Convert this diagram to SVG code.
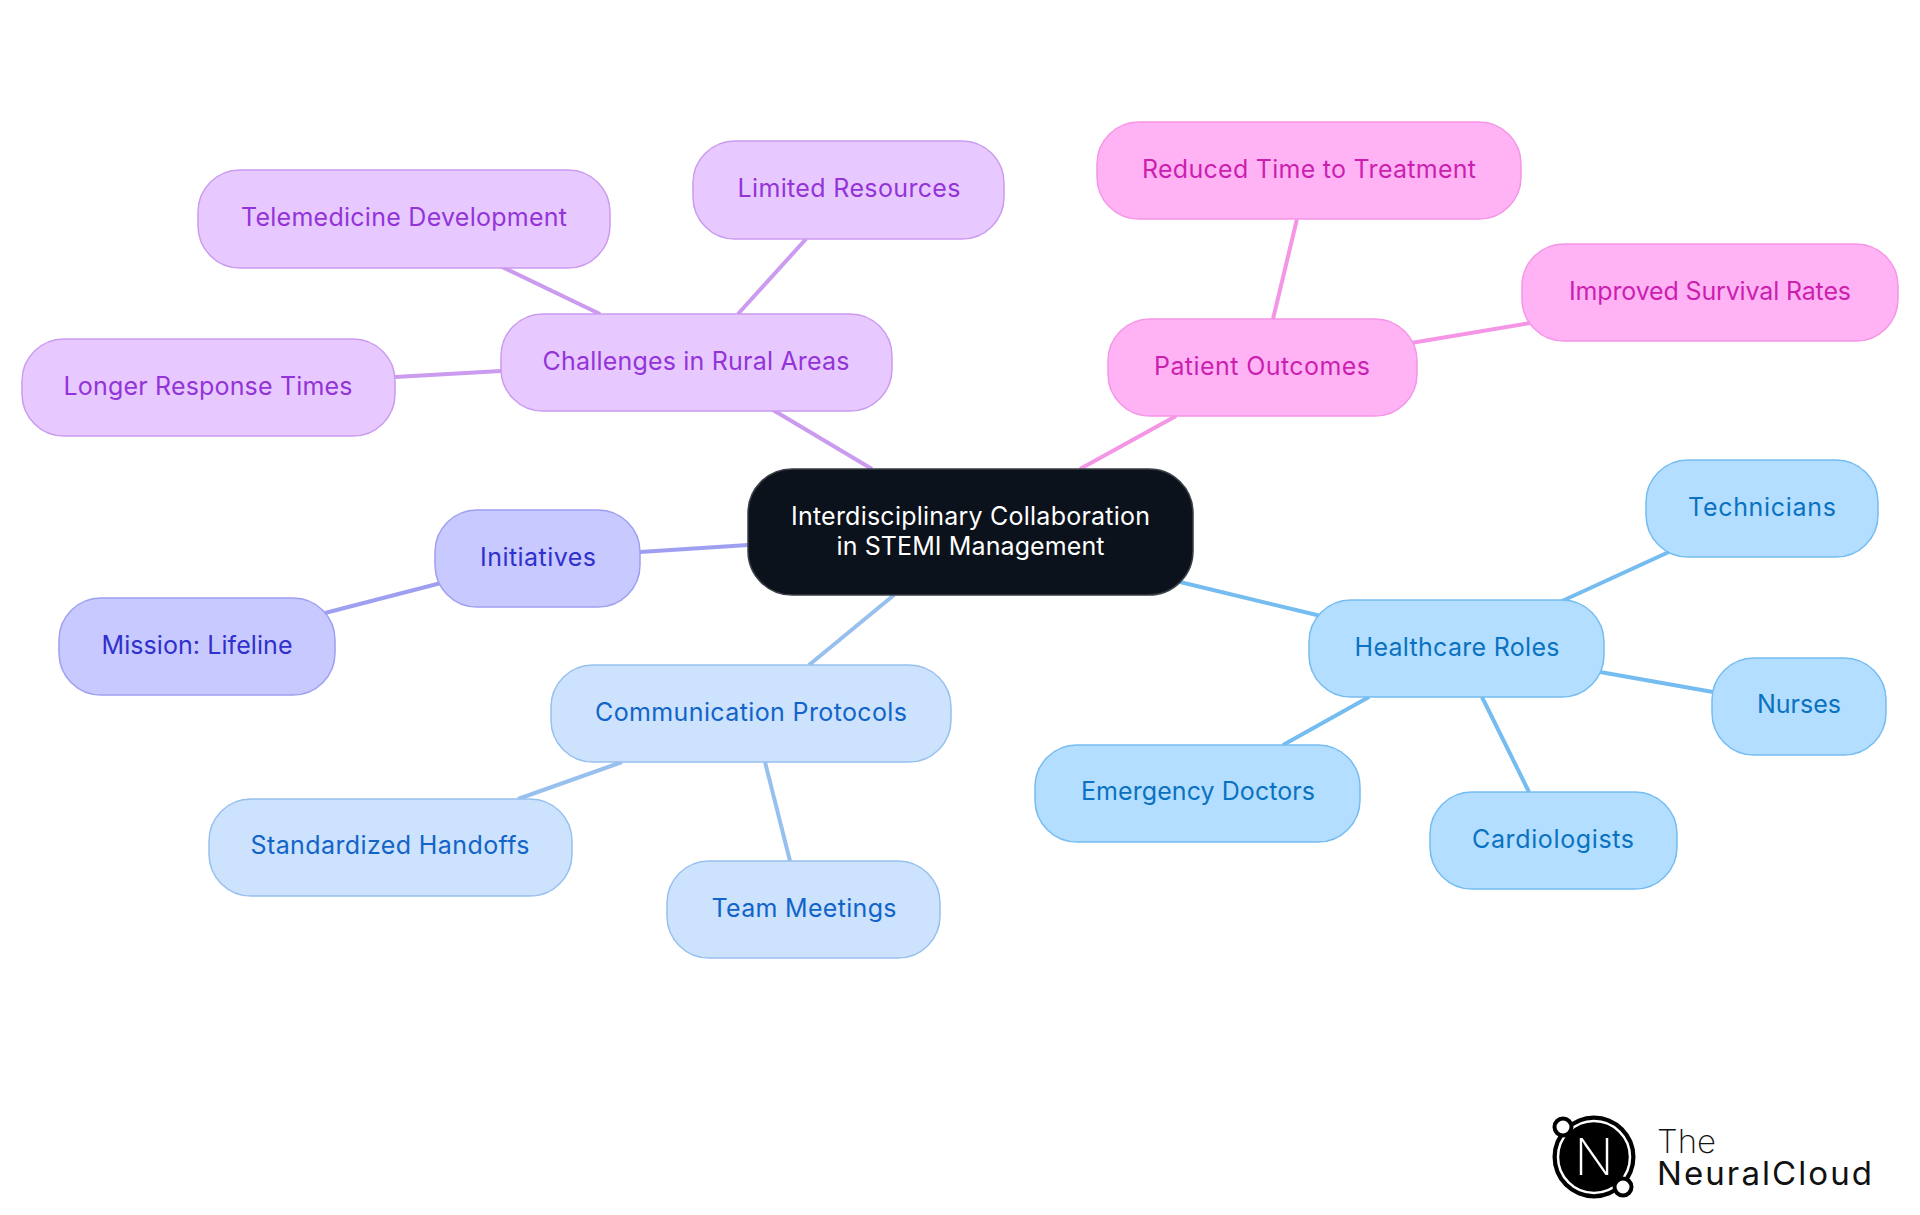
<svg xmlns="http://www.w3.org/2000/svg" width="1920" height="1215" viewBox="0 0 1920 1215">
<style>
text{font-family:"Inter","Liberation Sans",sans-serif;font-size:25px;font-weight:400;text-anchor:middle}
.n rect{stroke-width:1.5}
.pu rect{fill:#e8c9ff;stroke:#cb9bf0}.pu text{fill:#9334d8}
.pk rect{fill:#ffb3f5;stroke:#f595e6}.pk text{fill:#cc1fb0}
.bl rect{fill:#b3deff;stroke:#75bcf0}.bl text{fill:#0a72c0}
.lb rect{fill:#cce2fd;stroke:#98c0ef}.lb text{fill:#1264c8}
.in rect{fill:#c8c9ff;stroke:#9f9ff2}.in text{fill:#3030cc}
#edges line{stroke-width:4;fill:none}
.epu{stroke:#cb9bf0}.epk{stroke:#f595e6}.ebl{stroke:#75bcf0}.elb{stroke:#98c0ef}.ein{stroke:#9f9ff2}
.lg{font-family:"Inter",sans-serif;font-size:33px;font-weight:300;text-anchor:start;fill:#111}
</style>
<rect width="1920" height="1215" fill="#fff"/>
<g id="edges">
<line class="epu" x1="773" y1="410" x2="872" y2="469"/>
<line class="epu" x1="806" y1="239" x2="738" y2="314"/>
<line class="epu" x1="500" y1="266" x2="600" y2="314"/>
<line class="epu" x1="395" y1="377" x2="501" y2="371"/>
<line class="epk" x1="1176" y1="416" x2="1080" y2="469"/>
<line class="epk" x1="1297" y1="219" x2="1273" y2="319"/>
<line class="epk" x1="1411" y1="343" x2="1530" y2="323"/>
<line class="ebl" x1="1180" y1="582" x2="1321" y2="616"/>
<line class="ebl" x1="1562" y1="601" x2="1671" y2="551"/>
<line class="ebl" x1="1600" y1="672" x2="1713" y2="692"/>
<line class="ebl" x1="1482" y1="697" x2="1529" y2="792"/>
<line class="ebl" x1="1369" y1="697" x2="1283" y2="745"/>
<line class="elb" x1="894" y1="595" x2="809" y2="665"/>
<line class="elb" x1="622" y1="762" x2="518" y2="799"/>
<line class="elb" x1="765" y1="762" x2="790" y2="861"/>
<line class="ein" x1="640" y1="552" x2="748" y2="545"/>
<line class="ein" x1="441" y1="583" x2="325" y2="613"/>
</g>
<g id="root" class="n"><rect x="748" y="469" width="445" height="126" rx="44" fill="#0b121b" stroke="#3a3f47"/><text x="970.5" y="525" fill="#fff" textLength="359">Interdisciplinary Collaboration</text><text x="970.5" y="555" fill="#fff" textLength="268">in STEMI Management</text></g>
<g id="challenges" class="n pu"><rect x="501" y="314" width="391" height="97" rx="42"/><text x="696" y="370" textLength="307">Challenges in Rural Areas</text></g>
<g id="telemedicine" class="n pu"><rect x="198" y="170" width="412" height="98" rx="42"/><text x="404" y="226" textLength="326">Telemedicine Development</text></g>
<g id="limited" class="n pu"><rect x="693" y="141" width="311" height="98" rx="42"/><text x="849" y="197" textLength="223">Limited Resources</text></g>
<g id="longer" class="n pu"><rect x="22" y="339" width="373" height="97" rx="42"/><text x="208" y="395" textLength="289">Longer Response Times</text></g>
<g id="patient" class="n pk"><rect x="1108" y="319" width="309" height="97" rx="42"/><text x="1262" y="375" textLength="216">Patient Outcomes</text></g>
<g id="reduced" class="n pk"><rect x="1097" y="122" width="424" height="97" rx="42"/><text x="1309" y="178" textLength="334">Reduced Time to Treatment</text></g>
<g id="improved" class="n pk"><rect x="1522" y="244" width="376" height="97" rx="42"/><text x="1710" y="300" textLength="282">Improved Survival Rates</text></g>
<g id="roles" class="n bl"><rect x="1309" y="600" width="295" height="97" rx="42"/><text x="1457" y="656" textLength="205">Healthcare Roles</text></g>
<g id="technicians" class="n bl"><rect x="1646" y="460" width="232" height="97" rx="42"/><text x="1762" y="516" textLength="148">Technicians</text></g>
<g id="nurses" class="n bl"><rect x="1712" y="658" width="174" height="97" rx="42"/><text x="1799" y="713" textLength="84">Nurses</text></g>
<g id="cardiologists" class="n bl"><rect x="1430" y="792" width="247" height="97" rx="42"/><text x="1553" y="848" textLength="162">Cardiologists</text></g>
<g id="emergency" class="n bl"><rect x="1035" y="745" width="325" height="97" rx="42"/><text x="1198" y="800" textLength="234">Emergency Doctors</text></g>
<g id="communication" class="n lb"><rect x="551" y="665" width="400" height="97" rx="42"/><text x="751" y="721" textLength="312">Communication Protocols</text></g>
<g id="handoffs" class="n lb"><rect x="209" y="799" width="363" height="97" rx="42"/><text x="390" y="854" textLength="279">Standardized Handoffs</text></g>
<g id="meetings" class="n lb"><rect x="667" y="861" width="273" height="97" rx="42"/><text x="804" y="917" textLength="185">Team Meetings</text></g>
<g id="initiatives" class="n in"><rect x="435" y="510" width="205" height="97" rx="42"/><text x="538" y="566" textLength="116">Initiatives</text></g>
<g id="mission" class="n in"><rect x="59" y="598" width="276" height="97" rx="42"/><text x="197" y="654" textLength="191">Mission: Lifeline</text></g>
<g id="logo">
<circle cx="1594" cy="1157" r="41.5" fill="#000"/>
<circle cx="1594" cy="1157" r="36" fill="none" stroke="#fff" stroke-width="2.5"/>
<circle cx="1563" cy="1127" r="8.5" fill="#fff" stroke="#000" stroke-width="4"/>
<circle cx="1623" cy="1187" r="8.5" fill="#fff" stroke="#000" stroke-width="4"/>
<text x="1594" y="1175" style="font-size:51px;font-weight:200;fill:#fff">N</text>
<text x="1657" y="1153" class="lg" style="font-weight:200">The</text>
<text x="1657" y="1185" class="lg" style="font-weight:400" textLength="215">NeuralCloud</text>
</g>
</svg>
